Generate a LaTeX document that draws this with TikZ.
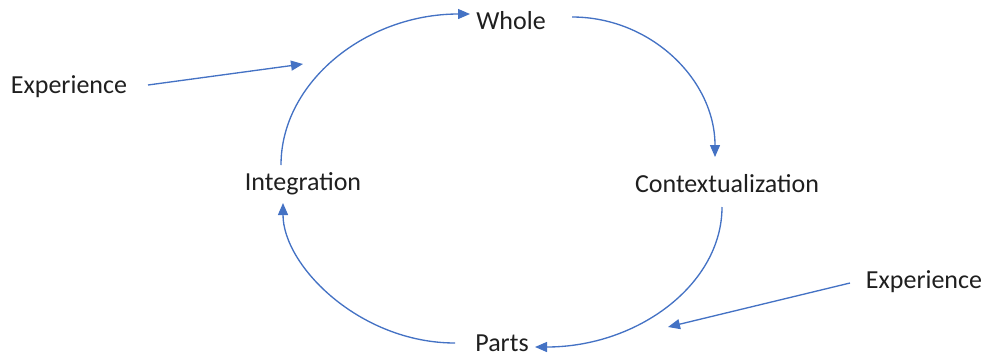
\documentclass[tikz,border=0pt]{standalone}
\usepackage{fontspec}
\setmainfont{Carlito}
\usetikzlibrary{arrows.meta,calc}
\definecolor{cycleblue}{HTML}{4472C4}
\begin{document}
\begin{tikzpicture}[x=0.75pt,y=-0.75pt,
  label/.style={inner sep=0pt,text=black!88,font=\fontsize{19.5}{23}\selectfont},
  flow/.style={draw=cycleblue,line width=1pt,-{Triangle[length=9pt,width=7.5pt]}}]
\useasboundingbox (0,0) rectangle (987,358);
% stage labels
\node[label] (whole) at (511,21) {Whole};
\node[label] (context) at (727,184) {Contextualization};
\node[label] (parts) at (502,343) {Parts};
\node[label] (integ) at (303,184) {Integration};
\node[label] (expL) at (69,87) {Experience};
\node[label] (expR) at (924,282) {Experience};
% cycle arcs
\draw[flow] ([shift={(-22,-19)}]integ.center) .. controls +(0,-83) and +(-104,0) .. ([shift={(-41,-7)}]whole.center);
\draw[flow] ([shift={(61,-4)}]whole.center) .. controls +(79,0) and +(0,-77) .. ([shift={(-12,-27)}]context.center);
\draw[flow] ([shift={(-5,23)}]context.center) .. controls +(0,77) and +(103,0) .. ([shift={(33,4)}]parts.center);
\draw[flow] ([shift={(-47,0)}]parts.center) .. controls +(-95,0) and +(0,63) .. ([shift={(-20,19)}]integ.center);
% experience inputs
\draw[flow] ([shift={(79,-2)}]expL.center) -- ([shift={(234,-23)}]expL.center);
\draw[flow] ([shift={(-74,1)}]expR.center) -- ([shift={(-256,45)}]expR.center);
\end{tikzpicture}
\end{document}
